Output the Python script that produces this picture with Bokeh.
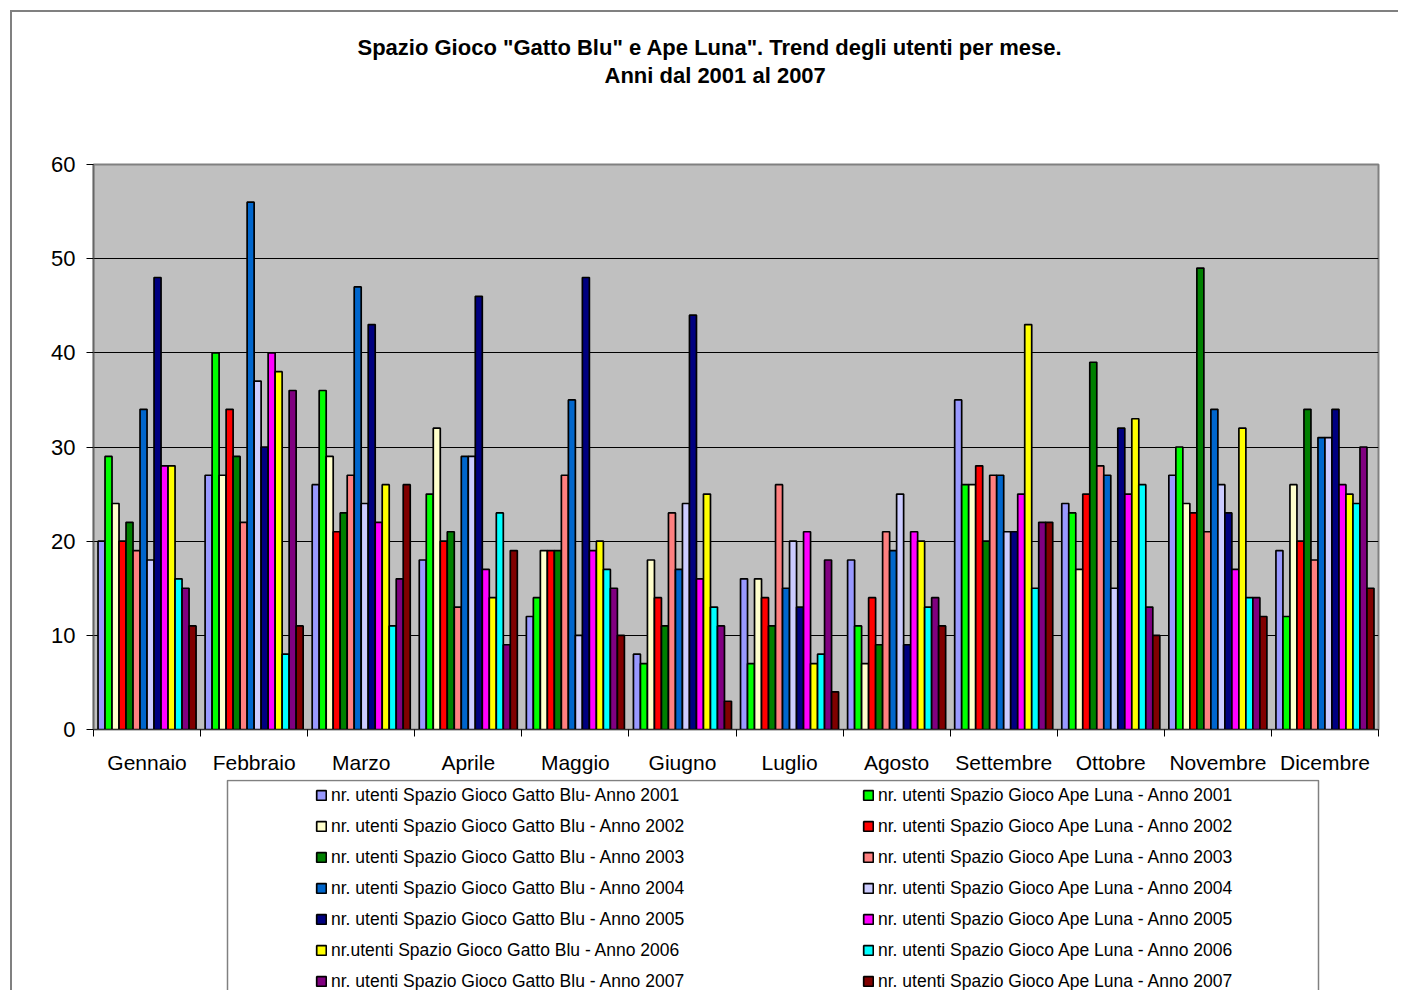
from bokeh.plotting import figure
from bokeh.layouts import column
from bokeh.models import (ColumnDataSource, Range1d, FixedTicker, Legend, LegendItem, Title,
                          BoxAnnotation)
from bokeh.transform import dodge
from bokeh.embed import file_html
from bokeh.resources import INLINE

months = ["Gennaio", "Febbraio", "Marzo", "Aprile", "Maggio", "Giugno", "Luglio",
          "Agosto", "Settembre", "Ottobre", "Novembre", "Dicembre"]

gatto_blu_2001 = [20, 27, 26, 18, 12, 8, 16, 18, 35, 24, 27, 19]
ape_luna_2001 = [29, 40, 36, 25, 14, 7, 7, 11, 26, 23, 30, 12]
gatto_blu_2002 = [24, 27, 29, 32, 19, 18, 16, 7, 26, 17, 24, 26]
ape_luna_2002 = [20, 34, 21, 20, 19, 14, 14, 14, 28, 25, 23, 20]
gatto_blu_2003 = [22, 29, 23, 21, 19, 11, 11, 9, 20, 39, 49, 34]
ape_luna_2003 = [19, 22, 27, 13, 27, 23, 26, 21, 27, 28, 21, 18]
gatto_blu_2004 = [34, 56, 47, 29, 35, 17, 15, 19, 27, 27, 34, 31]
ape_luna_2004 = [18, 37, 24, 29, 10, 24, 20, 25, 21, 15, 26, 31]
gatto_blu_2005 = [48, 30, 43, 46, 48, 44, 13, 9, 21, 32, 23, 34]
ape_luna_2005 = [28, 40, 22, 17, 19, 16, 21, 21, 25, 25, 17, 26]
gatto_blu_2006 = [28, 38, 26, 14, 20, 25, 7, 20, 43, 33, 32, 25]
ape_luna_2006 = [16, 8, 11, 23, 17, 13, 8, 13, 15, 26, 14, 24]
gatto_blu_2007 = [15, 36, 16, 9, 15, 11, 18, 14, 22, 13, 14, 30]
ape_luna_2007 = [11, 11, 26, 19, 10, 3, 4, 11, 22, 10, 12, 15]

labels_gb = ["nr. utenti Spazio Gioco Gatto Blu- Anno 2001",
             "nr. utenti Spazio Gioco Gatto Blu - Anno 2002",
             "nr. utenti Spazio Gioco Gatto Blu - Anno 2003",
             "nr. utenti Spazio Gioco Gatto Blu - Anno 2004",
             "nr. utenti Spazio Gioco Gatto Blu - Anno 2005",
             "nr.utenti Spazio Gioco Gatto Blu - Anno 2006",
             "nr. utenti Spazio Gioco Gatto Blu - Anno 2007"]
labels_al = ["nr. utenti Spazio Gioco Ape Luna - Anno 2001",
             "nr. utenti Spazio Gioco Ape Luna - Anno 2002",
             "nr. utenti Spazio Gioco Ape Luna - Anno 2003",
             "nr. utenti Spazio Gioco Ape Luna - Anno 2004",
             "nr. utenti Spazio Gioco Ape Luna - Anno 2005",
             "nr. utenti Spazio Gioco Ape Luna - Anno 2006",
             "nr. utenti Spazio Gioco Ape Luna - Anno 2007"]

colors_gb = ["#9999FF", "#FFFFCC", "#008000", "#0066CC", "#000080", "#FFFF00", "#800080"]
colors_al = ["#00FF00", "#FF0000", "#FF8080", "#CCCCFF", "#FF00FF", "#00FFFF", "#800000"]

gb_series = [gatto_blu_2001, gatto_blu_2002, gatto_blu_2003, gatto_blu_2004,
             gatto_blu_2005, gatto_blu_2006, gatto_blu_2007]
al_series = [ape_luna_2001, ape_luna_2002, ape_luna_2003, ape_luna_2004,
             ape_luna_2005, ape_luna_2006, ape_luna_2007]

title_1 = 'Spazio Gioco "Gatto Blu" e Ape Luna". Trend degli utenti per mese.'
title_2 = "Anni dal 2001 al 2007"

# interleaved bar order: GB2001, AL2001, GB2002, AL2002, ...
data = {"x": [i + 0.5 for i in range(len(months))]}
order = []
for k in range(7):
    order.append(("gb%d" % k, gb_series[k], colors_gb[k], labels_gb[k], "gb"))
    order.append(("al%d" % k, al_series[k], colors_al[k], labels_al[k], "al"))
for name, vals, _, _, _ in order:
    data[name] = vals
src = ColumnDataSource(data)

OFF = 12  # wrapper margin + border
W = 1386
H1 = 767
H2 = 211
FL = 93 - OFF
FR = W - (1378 - OFF)

p = figure(width=W, height=H1, output_backend="svg", toolbar_location=None,
           x_range=Range1d(0, 12), y_range=Range1d(0, 60),
           min_border_left=FL, min_border_right=FR,
           min_border_top=164 - OFF, min_border_bottom=H1 - (729 - OFF),
           background_fill_color="#C0C0C0", border_fill_color="white")
p.outline_line_color = "#808080"
p.outline_line_width = 2

bw = 0.0654
for i, (name, vals, col, lab, grp) in enumerate(order):
    p.vbar(x=dodge("x", (i - 6.5) * bw, range=p.x_range), top=name, width=bw,
           source=src, fill_color=col, line_color="black", line_width=1.7)

# axes
p.xgrid.grid_line_color = None
p.ygrid.grid_line_color = "black"
p.ygrid.grid_line_width = 1
p.yaxis.ticker = FixedTicker(ticks=[0, 10, 20, 30, 40, 50, 60], minor_ticks=[])
p.yaxis.major_label_text_font = "Liberation Sans"
p.yaxis.major_label_text_font_size = "22px"
p.yaxis.major_label_text_color = "black"
p.yaxis.major_tick_in = 0
p.yaxis.major_tick_out = 7
p.yaxis.major_tick_line_color = "black"
p.yaxis.minor_tick_line_color = None
p.yaxis.axis_line_color = "#666666"
p.yaxis.axis_line_width = 1.5
p.yaxis.major_label_standoff = 11

p.xaxis.ticker = FixedTicker(ticks=[i + 0.5 for i in range(12)],
                             minor_ticks=[float(i) for i in range(13)])
p.xaxis.major_label_overrides = {i + 0.5: m for i, m in enumerate(months)}
p.xaxis.major_tick_line_color = None
p.xaxis.major_tick_in = 0
p.xaxis.major_tick_out = 0
p.xaxis.minor_tick_in = 0
p.xaxis.minor_tick_out = 7
p.xaxis.minor_tick_line_color = "black"
p.xaxis.axis_line_color = "#333333"
p.xaxis.major_label_text_font = "Liberation Sans"
p.xaxis.major_label_text_font_size = "21px"
p.xaxis.major_label_text_color = "black"
p.xaxis.major_label_standoff = 14

# titles: spacer (closest to frame), second line, first line
tstyle = dict(text_font="Liberation Sans", text_font_style="bold",
              text_font_size="22px", text_color="black", align="left")
p.add_layout(Title(text=" ", text_font_size="10px", standoff=62), "above")
p.add_layout(Title(text=title_2, offset=604 - 93, standoff=3, **tstyle), "above")
p.add_layout(Title(text=title_1, offset=357 - 93, standoff=0, **tstyle), "above")

# legend panel (separate figure, same horizontal frame as the chart);
# legend-only renderers are hidden, the legend still shows their swatches
p2 = figure(width=W, height=H2, output_backend="svg", toolbar_location=None,
            x_range=Range1d(-14, -12), y_range=Range1d(100, 160),
            x_axis_type=None, y_axis_type=None,
            min_border_left=FL, min_border_right=FR,
            min_border_top=0, min_border_bottom=0,
            background_fill_color="white", border_fill_color="white")
p2.grid.visible = False
p2.outline_line_color = None

frame_h2 = H2
p2.add_layout(BoxAnnotation(left=227 - 93, right=1318 - 93, top=frame_h2 - 1, bottom=-60,
                            left_units="screen", right_units="screen",
                            top_units="screen", bottom_units="screen",
                            fill_alpha=0, line_color="#808080", line_width=1.5,
                            line_alpha=1.0))

gb_items, al_items = [], []
for i, (name, vals, col, lab, grp) in enumerate(order):
    r = p2.vbar(x=dodge("x", (i - 6.5) * bw, range=p2.x_range), top=name, width=bw,
                source=src, fill_color=col, line_color="black", line_width=1.7,
                visible=False)
    (gb_items if grp == "gb" else al_items).append(LegendItem(label=lab, renderers=[r]))

common = dict(orientation="vertical", padding=0, margin=0, spacing=10,
              glyph_width=12, glyph_height=12, label_height=21, label_standoff=4,
              label_text_font="Liberation Sans", label_text_font_size="17.5px",
              label_text_color="black", border_line_alpha=0, background_fill_alpha=0,
              inactive_fill_alpha=0)
leg_h = 7 * 21 + 6 * 10
top_rel = (795 - 779) - 10.5
vy = frame_h2 - top_rel - leg_h
leg1 = Legend(items=gb_items, location=(315 - 93, vy), **common)
leg2 = Legend(items=al_items, location=(862 - 93, vy), **common)
p2.add_layout(leg1, "center")
p2.add_layout(leg2, "center")

layout = column(p, p2, spacing=0,
                styles={"margin-left": "10px", "margin-top": "10px",
                        "border-left": "2px solid #808080", "border-top": "2px solid #808080"})

open("out.html", "w").write(file_html(layout, INLINE))
